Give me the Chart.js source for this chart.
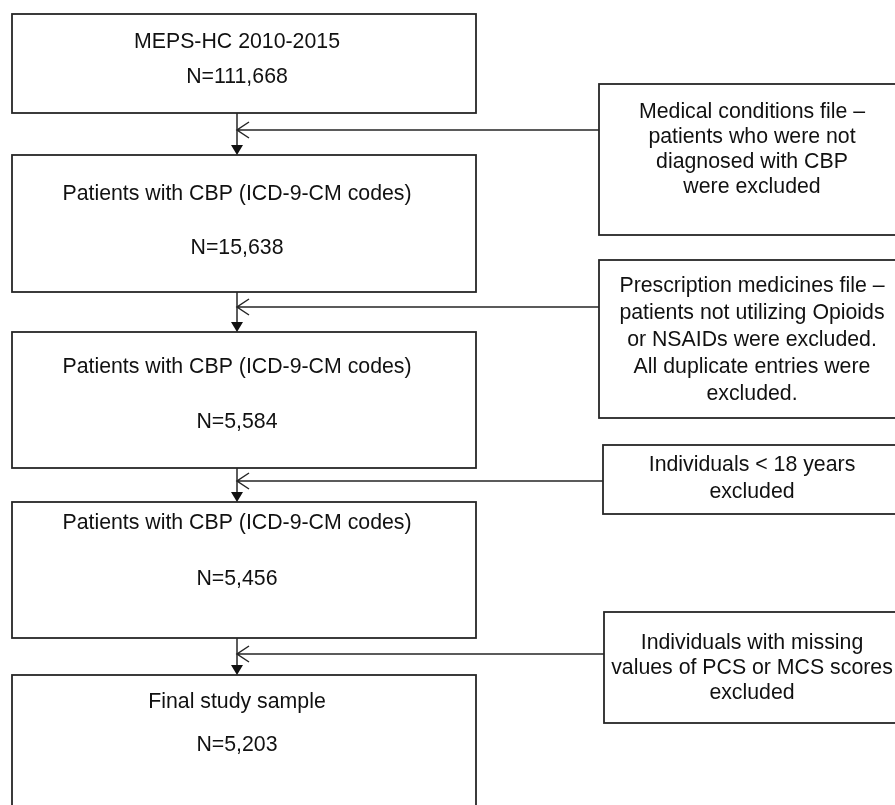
<!DOCTYPE html>
<html>
<head>
    <meta charset="UTF-8">
    <title>MEPS-HC flow chart</title>
    <style>
      body { margin: 0; background: #fff; }
      #flowChart { display: block; }
    </style>
</head>
<body>
    <canvas id="flowChart" width="895" height="805"></canvas>
    <script src="https://cdn.jsdelivr.net/npm/chart.js"></script>
    <script>

// ------------------------------------------D-A-T-A---------
const stageLabels = [
  "MEPS-HC 2010-2015",
  "Patients with CBP (ICD-9-CM codes)",
  "Patients with CBP (ICD-9-CM codes)",
  "Patients with CBP (ICD-9-CM codes)",
  "Final study sample"
];
const stageCounts = [111668, 15638, 5584, 5456, 5203];

const exclusionNotes = [
  ["Medical conditions file \u2013", "patients who were not", "diagnosed with CBP", "were excluded"],
  ["Prescription medicines file \u2013", "patients not utilizing Opioids", "or NSAIDs were excluded.", "All duplicate entries were", "excluded."],
  ["Individuals < 18 years", "excluded"],
  ["Individuals with missing", "values of PCS or MCS scores", "excluded"]
];

// ------------------------------------------L-A-Y-O-U-T------ (axis units)
const stageBoxTop = [14, 155, 332, 502, 675];
const stageBoxBottom = [113, 292, 468, 638, 830];
const stageLabelY = [42, 194, 367, 523, 702];
const stageCountY = [77, 248, 422, 579, 745];
const stageBoxLeft = 12, stageBoxRight = 476, trunkX = 237;

const noteBoxLeft = [599, 599, 603, 604];
const noteBoxTop = [84, 260, 445, 612];
const noteBoxBottom = [235, 418, 514, 723];
const noteFirstLineY = [112, 286, 465, 643];
const noteLineGap = [25, 27, 27, 25];
const noteFeedY = [130, 307, 481, 654];
const noteBoxRight = 920, noteTextX = 752;

// ------------------------------------------P-L-U-G-I-N------
const flowPlugin = {
  id: 'flowPlugin',
  afterDraw(chart) {
    const ctx = chart.ctx;
    const sx = v => chart.scales.x.getPixelForValue(v);
    const sy = v => chart.scales.y.getPixelForValue(v);

    ctx.save();
    ctx.strokeStyle = '#262626';
    ctx.fillStyle = '#111';
    ctx.font = '21.3px "Liberation Sans", Arial, sans-serif';
    ctx.textAlign = 'center';
    ctx.textBaseline = 'middle';

    // main boxes
    ctx.lineWidth = 1.8;
    stageLabels.forEach((label, i) => {
      const x0 = sx(stageBoxLeft), x1 = sx(stageBoxRight);
      const y0 = sy(stageBoxTop[i]), y1 = sy(stageBoxBottom[i]);
      ctx.strokeRect(x0, y0, x1 - x0, y1 - y0);
      ctx.fillText(label, sx(trunkX), sy(stageLabelY[i]));
      ctx.fillText('N=' + stageCounts[i].toLocaleString('en-US'), sx(trunkX), sy(stageCountY[i]));
    });

    // exclusion boxes
    exclusionNotes.forEach((lines, i) => {
      const x0 = sx(noteBoxLeft[i]), x1 = sx(noteBoxRight);
      const y0 = sy(noteBoxTop[i]), y1 = sy(noteBoxBottom[i]);
      ctx.lineWidth = 1.8;
      ctx.strokeRect(x0, y0, x1 - x0, y1 - y0);
      lines.forEach((t, k) => {
        ctx.fillText(t, sx(noteTextX), sy(noteFirstLineY[i] + k * noteLineGap[i]));
      });

      // feeder line into the trunk with open arrow head
      const fy = sy(noteFeedY[i]);
      ctx.lineWidth = 1.5;
      ctx.beginPath();
      ctx.moveTo(x0, fy);
      ctx.lineTo(sx(trunkX), fy);
      ctx.moveTo(sx(trunkX + 12), fy - 8);
      ctx.lineTo(sx(trunkX), fy);
      ctx.lineTo(sx(trunkX + 12), fy + 8);
      ctx.stroke();
    });

    // trunk segments between main boxes with filled arrow heads
    for (let i = 0; i < stageLabels.length - 1; i++) {
      const top = sy(stageBoxBottom[i]);
      const tip = sy(stageBoxTop[i + 1]);
      ctx.lineWidth = 1.5;
      ctx.beginPath();
      ctx.moveTo(sx(trunkX), top);
      ctx.lineTo(sx(trunkX), tip - 8);
      ctx.stroke();
      ctx.beginPath();
      ctx.moveTo(sx(trunkX - 6), tip - 10);
      ctx.lineTo(sx(trunkX + 6), tip - 10);
      ctx.lineTo(sx(trunkX), tip);
      ctx.closePath();
      ctx.fill();
    }
    ctx.restore();
  }
};

// ------------------------------------------C-H-A-R-T---------
const flowChart = new Chart(document.getElementById('flowChart'), {
  type: 'scatter',
  data: { datasets: [{ data: [] }] },
  options: {
    responsive: false,
    animation: false,
    devicePixelRatio: 1,
    layout: { padding: 0 },
    plugins: { legend: { display: false }, tooltip: { enabled: false } },
    scales: {
      x: { display: false, min: 0, max: 895 },
      y: { display: false, min: 0, max: 805, reverse: true }
    }
  },
  plugins: [flowPlugin]
});
    </script>
</body>
</html>
